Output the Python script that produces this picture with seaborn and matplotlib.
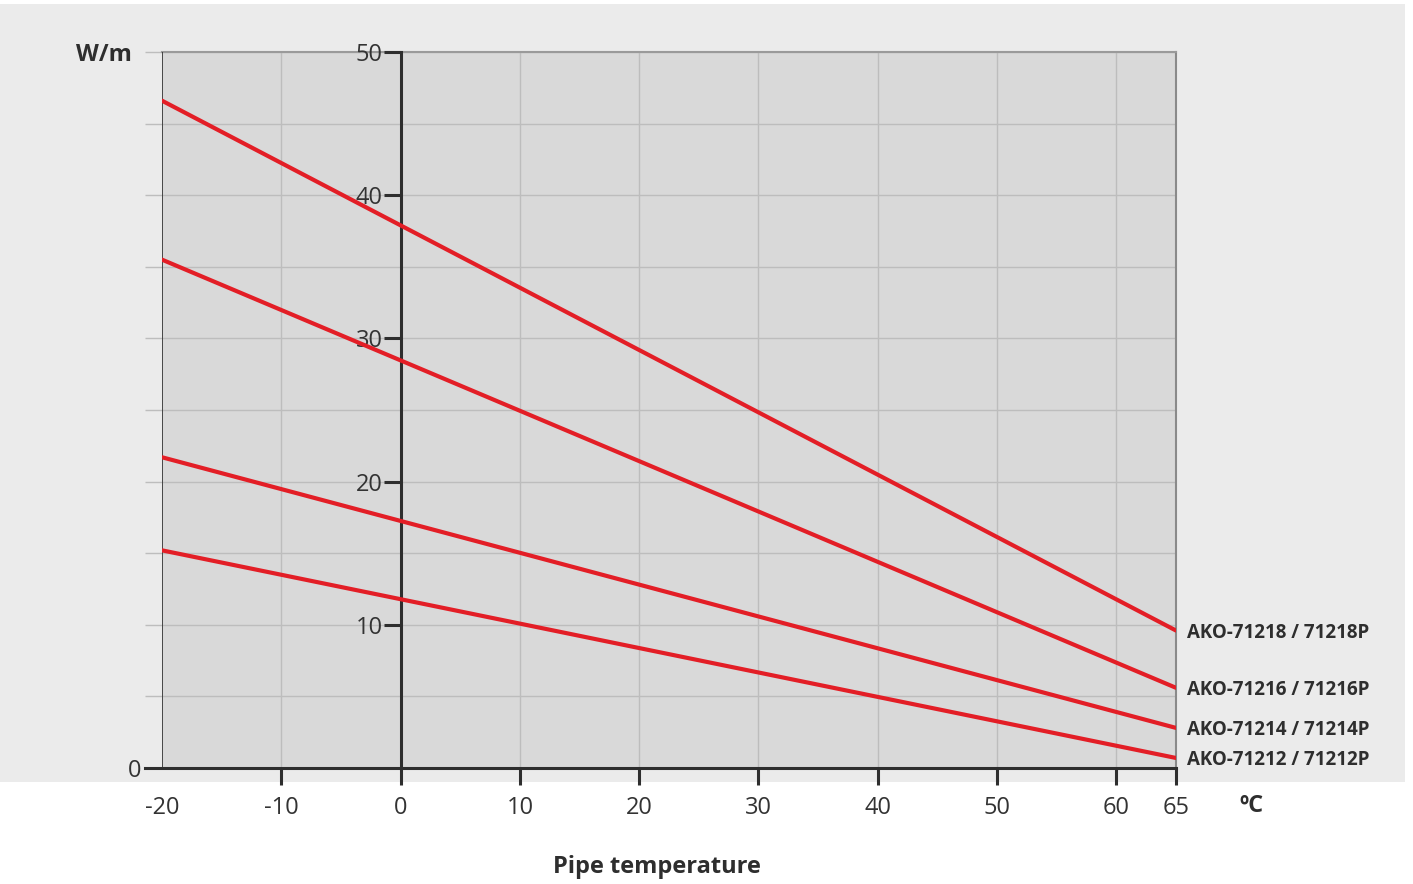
import numpy as np
import pandas as pd
import matplotlib.pyplot as plt
import seaborn as sns
from matplotlib.patches import Rectangle

# values (W/m at -20 and 65 degC)
temps = [-20, 65]
models = ["AKO-71218 / 71218P", "AKO-71216 / 71216P", "AKO-71214 / 71214P", "AKO-71212 / 71212P"]
power_18 = [46.6, 9.6]
power_16 = [35.5, 5.6]
power_14 = [21.7, 2.8]
power_12 = [15.2, 0.7]
x_ticks = [-20, -10, 0, 10, 20, 30, 40, 50, 60, 65]
y_ticks = [10, 20, 30, 40, 50]

rows = []
for name, vals in zip(models, [power_18, power_16, power_14, power_12]):
    for t, v in zip(temps, vals):
        rows.append({"temp": t, "power": v, "model": name})
df = pd.DataFrame(rows)

sns.set_style("white")
plt.rcParams["font.family"] = ["Open Sans", "DejaVu Sans"]

red = "#e31e26"
dark = "#2e2e2e"
grid = "#bdbdbd"

fig = plt.figure(figsize=(14.13, 8.84), dpi=100)
fig.patches.append(Rectangle((0, 102 / 884), 1405 / 1413, 778 / 884,
                             transform=fig.transFigure, facecolor="#ebebeb",
                             edgecolor="none", zorder=-10))
ax = fig.add_axes([162 / 1413, 116 / 884, 1014 / 1413, 716 / 884])
ax.set_facecolor("#d9d9d9")
ax.set_axisbelow(False)

sns.lineplot(data=df, x="temp", y="power", hue="model", palette=[red] * 4,
             legend=False, lw=3, ax=ax, zorder=5)

ax.set_xlim(-20, 65)
ax.set_ylim(0, 50)

# grid
ax.set_xticks(x_ticks)
ax.set_xticklabels([str(t) for t in x_ticks])
ax.set_yticks(y_ticks)
ax.set_yticklabels([str(t) for t in y_ticks])
ax.set_yticks(np.arange(5, 50, 10), minor=True)
for gx in range(-10, 65, 10):
    ax.axvline(gx, color=grid, lw=1, zorder=0.3)
ax.hlines(np.arange(5, 55, 5), -21.45, 65, color=grid, lw=1, clip_on=False, zorder=0.3)

# spines
ax.spines["left"].set_position(("data", 0))
ax.spines["left"].set_color(dark)
ax.spines["left"].set_linewidth(2.2)
ax.spines["left"].set_zorder(4)
ax.spines["bottom"].set_color(dark)
ax.spines["bottom"].set_linewidth(2.2)
ax.spines["bottom"].set_bounds(-21.45, 65)
ax.spines["top"].set_color("#9a9a9a")
ax.spines["top"].set_linewidth(1.5)
ax.spines["right"].set_color("#8a8a8a")
ax.spines["right"].set_linewidth(1.5)
ax.axvline(-20, color=dark, lw=1.2, zorder=3)

ax.tick_params(axis="x", bottom=True, direction="out", length=12, width=2.2, color=dark,
               pad=8, labelsize=17, labelcolor="#333333")
ax.tick_params(axis="y", left=True, direction="out", length=12, width=2.2, color=dark,
               pad=1, labelsize=17, labelcolor="#333333")
ax.tick_params(axis="y", which="minor", left=False, length=0)
ax.xaxis.get_major_ticks()[0].tick1line.set_visible(False)
for lbl in ax.get_yticklabels():
    lbl.set_va("center_baseline")

ax.set_xlabel("")
ax.set_ylabel("")
ax.text(-21.7, 0, "0", ha="right", va="center_baseline", fontsize=17, color="#333333",
        clip_on=False)

# series labels at the line ends
for name, vals in zip(models, [power_18, power_16, power_14, power_12]):
    ax.text(65.9, vals[-1], name, ha="left", va="center_baseline", fontsize=13.5,
            fontweight="bold", color=dark, clip_on=False)

fig.text(132 / 1413, 1 - 55 / 884, "W/m", ha="right", va="center", fontsize=17,
         fontweight="bold", color=dark)
fig.text(1251 / 1413, 1 - 806 / 884, "ºC", ha="center", va="center", fontsize=17,
         fontweight="bold", color=dark)
fig.text(657 / 1413, 1 - 867 / 884, "Pipe temperature", ha="center", va="center",
         fontsize=17, fontweight="bold", color=dark)

plt.savefig("out.png", dpi=100)
plt.close()
